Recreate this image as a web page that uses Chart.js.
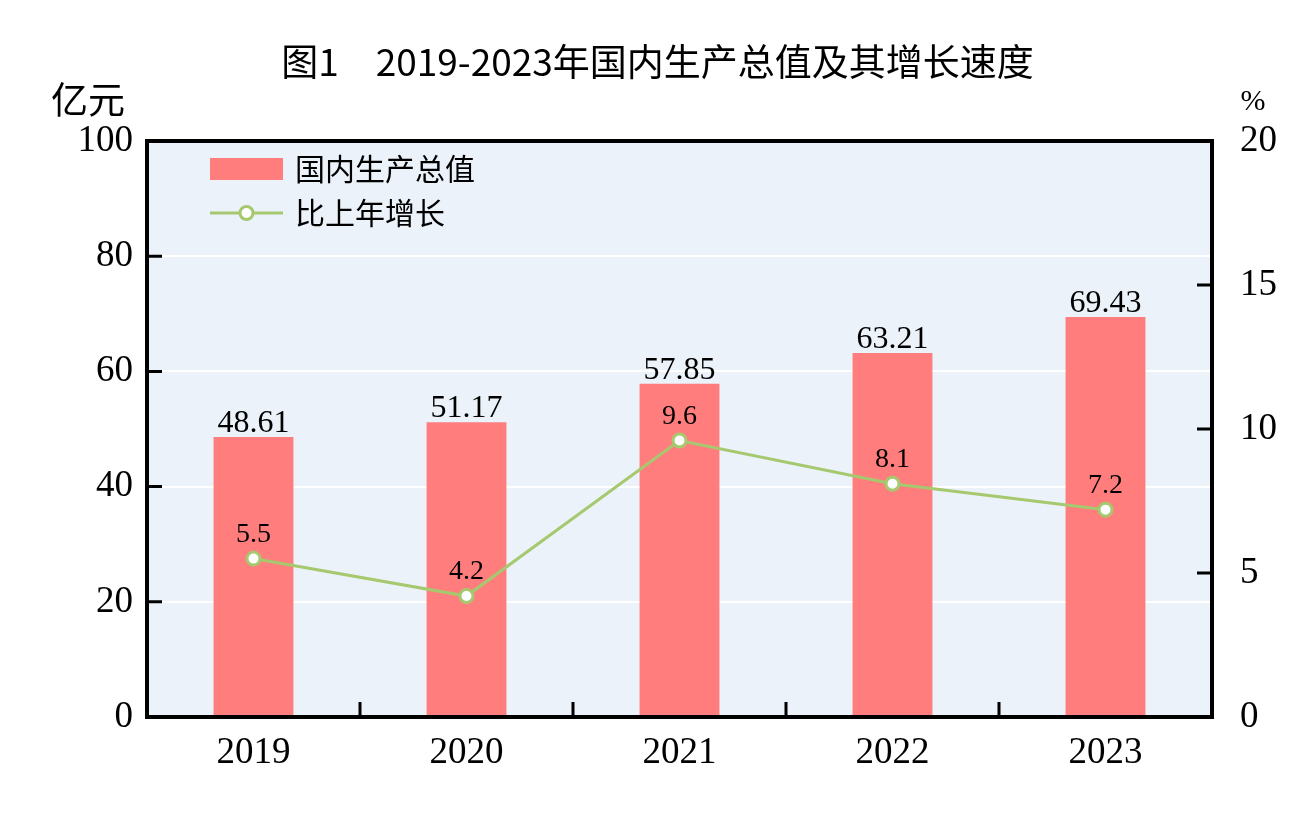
<!DOCTYPE html>
<html>
<head>
<meta charset="utf-8">
<script src="https://cdn.jsdelivr.net/npm/chart.js@4.4.0/dist/chart.umd.min.js"></script>
<style>
  body { margin: 0; background: #fff; }
  #wrap { width: 1315px; height: 817px; }
</style>
</head>
<body>
<div id="wrap"><canvas id="gdpChart" width="1315" height="817"></canvas></div>
<script>
(() => {
  "use strict";

  // data
  const years = [`2019`, `2020`, `2021`, `2022`, `2023`];
  const gdp = [48.61, 51.17, 57.85, 63.21, 69.43];
  const growth = [5.5, 4.2, 9.6, 8.1, 7.2];
  const gdpTicks = [0, 20, 40, 60, 80, 100];
  const growthTicks = [0, 5, 10, 15, 20];

  const titleText = `图1　2019-2023年国内生产总值及其增长速度`;
  const leftUnit = `亿元`;
  const rightUnit = `%`;

  const barColor = `rgb(255,125,125)`,
    lineColor = `rgb(166,200,110)`,
    plotBg = `rgb(235,242,249)`,
    serif = `"Liberation Serif", "DejaVu Serif", serif`,
    cjk = `"Noto Sans CJK SC", "Noto Sans", sans-serif`;

  // background, frame, inward ticks
  const framePlugin = {
    id: `frame`,
    beforeDraw(chart) {
      const { ctx, chartArea: a } = chart;
      ctx.save();
      ctx.fillStyle = plotBg;
      ctx.fillRect(a.left, a.top, a.right - a.left, a.bottom - a.top);
      ctx.restore();
    },
    afterDraw(chart) {
      const { ctx, chartArea: a, scales } = chart;
      ctx.save();
      ctx.strokeStyle = `#000`;
      ctx.lineWidth = 4;
      ctx.strokeRect(a.left, a.top, a.right - a.left, a.bottom - a.top);
      ctx.lineWidth = 3;
      const tk = 15;
      ctx.beginPath();
      gdpTicks.slice(1, -1).forEach((v) => {
        const y = scales.y.getPixelForValue(v);
        ctx.moveTo(a.left, y);
        ctx.lineTo(a.left + tk, y);
      });
      growthTicks.slice(1, -1).forEach((v) => {
        const y = scales.y2.getPixelForValue(v);
        ctx.moveTo(a.right, y);
        ctx.lineTo(a.right - tk, y);
      });
      for (let i = 1; i < years.length; i++) {
        const x = (scales.x.getPixelForValue(i - 1) + scales.x.getPixelForValue(i)) / 2;
        ctx.moveTo(x, a.bottom);
        ctx.lineTo(x, a.bottom - tk);
      }
      ctx.stroke();

      // title and units
      ctx.fillStyle = `#000`;
      ctx.textAlign = `center`;
      ctx.textBaseline = `middle`;
      ctx.font = `37px ${cjk}`;
      ctx.fillText(titleText, chart.width / 2, 62);
      ctx.font = `37px ${cjk}`;
      ctx.fillText(leftUnit, 88, 100);
      ctx.font = `30px ${serif}`;
      ctx.fillText(rightUnit, 1253, 102);

      // legend
      const lx = a.left + 63, lw = 73;
      ctx.fillStyle = barColor;
      ctx.fillRect(lx, 158, lw, 22);
      ctx.strokeStyle = lineColor;
      ctx.lineWidth = 3;
      ctx.beginPath();
      ctx.moveTo(lx, 213);
      ctx.lineTo(lx + lw, 213);
      ctx.stroke();
      ctx.beginPath();
      ctx.arc(lx + lw / 2, 213, 6.5, 0, Math.PI * 2);
      ctx.fillStyle = `#fff`;
      ctx.fill();
      ctx.stroke();
      ctx.fillStyle = `#000`;
      ctx.textAlign = `left`;
      ctx.font = `30px ${cjk}`;
      ctx.fillText(chart.data.datasets[1].label, lx + lw + 12, 169);
      ctx.fillText(chart.data.datasets[0].label, lx + lw + 12, 213);
      ctx.restore();
    },
  };

  // value labels over bars and points
  const labelPlugin = {
    id: `labels`,
    afterDatasetsDraw(chart) {
      const { ctx } = chart;
      ctx.save();
      ctx.fillStyle = `#000`;
      ctx.textAlign = `center`;
      ctx.textBaseline = `alphabetic`;
      ctx.font = `32px ${serif}`;
      chart.getDatasetMeta(1).data.forEach((el, i) => {
        ctx.fillText(gdp[i].toFixed(2), el.x, el.y - 5);
      });
      ctx.font = `28px ${serif}`;
      chart.getDatasetMeta(0).data.forEach((el, i) => {
        ctx.fillText(growth[i].toFixed(1), el.x, el.y - 17);
      });
      ctx.restore();
    },
  };

  const cfg = {
    type: `bar`,
    data: {
      labels: years,
      datasets: [
        {
          type: `line`,
          label: `比上年增长`,
          data: growth,
          yAxisID: `y2`,
          borderColor: lineColor,
          borderWidth: 3,
          pointRadius: 6.5,
          pointBorderWidth: 3,
          pointBackgroundColor: `#fff`,
          pointBorderColor: lineColor,
          tension: 0,
          order: 0,
        },
        {
          type: `bar`,
          label: `国内生产总值`,
          data: gdp,
          yAxisID: `y`,
          backgroundColor: barColor,
          barPercentage: 0.75,
          categoryPercentage: 0.5,
          order: 1,
        },
      ],
    },
    options: {
      responsive: false,
      animation: false,
      devicePixelRatio: 1,
      layout: { padding: { top: 141, left: 0, right: 0, bottom: 0 } },
      plugins: {
        legend: { display: false },
        title: { display: false },
        tooltip: { enabled: false },
      },
      scales: {
        x: {
          grid: { display: false, drawTicks: false },
          border: { display: false },
          ticks: { color: `#000`, padding: 14, font: { family: serif, size: 37 } },
          afterFit(s) { s.height = 100; },
        },
        y: {
          position: `left`,
          min: 0,
          max: 100,
          afterBuildTicks(s) { s.ticks = gdpTicks.map((v) => ({ value: v })); },
          grid: {
            drawTicks: false,
            lineWidth: 2,
            color: (c) => (c.tick.value === 0 || c.tick.value === 100 ? `rgba(0,0,0,0)` : `#fff`),
          },
          border: { display: false },
          ticks: { color: `#000`, padding: 14, font: { family: serif, size: 37 } },
          afterFit(s) { s.width = 147; },
        },
        y2: {
          position: `right`,
          min: 0,
          max: 20,
          afterBuildTicks(s) { s.ticks = growthTicks.map((v) => ({ value: v })); },
          grid: { display: false, drawTicks: false },
          border: { display: false },
          ticks: { color: `#000`, padding: 28, font: { family: serif, size: 37 } },
          afterFit(s) { s.width = 103; },
        },
      },
    },
    plugins: [framePlugin, labelPlugin],
  };

  new Chart(document.getElementById(`gdpChart`), cfg);
})();
</script>
</body>
</html>
